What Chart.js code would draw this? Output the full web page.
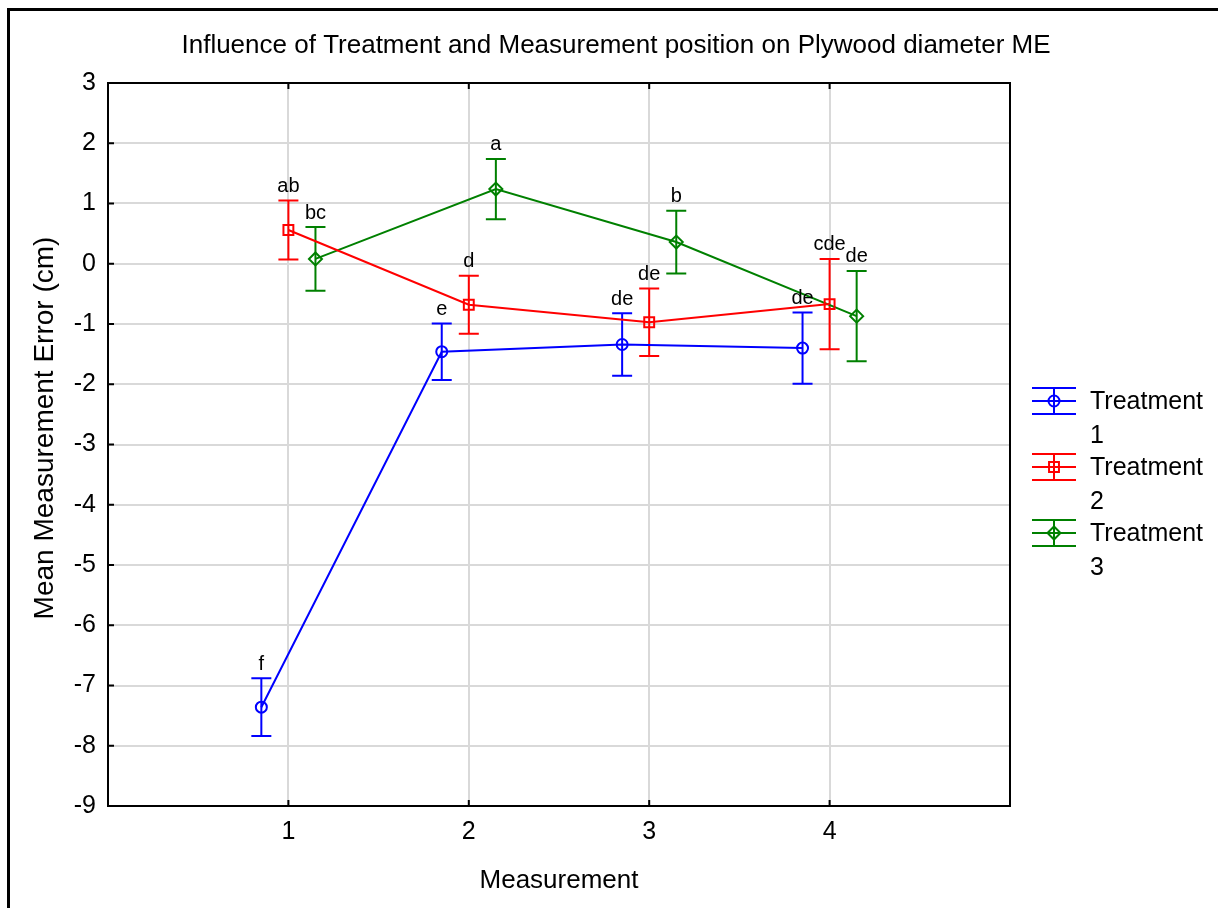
<!DOCTYPE html>
<html>
<head>
<meta charset="utf-8">
<script src="https://cdn.jsdelivr.net/npm/chart.js@4/dist/chart.umd.min.js"></script>
<style>
  html, body { margin: 0; padding: 0; background: #fff; }
</style>
</head>
<body>
<canvas id="chart" width="1218" height="908"></canvas>
<script>
// measurement positions (x axis)
const measurements = [1, 2, 3, 4];
const xTickLabels = ["1", "2", "3", "4"];

// Treatment 1 - means, +/- error, letter groups
const t1Means = [-7.36, -1.46, -1.34, -1.40];
const t1Errors = [0.48, 0.47, 0.52, 0.59];
const t1Letters = ["f", "e", "de", "de"];

// Treatment 2
const t2Means = [0.56, -0.68, -0.97, -0.67];
const t2Errors = [0.49, 0.48, 0.56, 0.75];
const t2Letters = ["ab", "d", "de", "cde"];

// Treatment 3
const t3Means = [0.08, 1.24, 0.36, -0.87];
const t3Errors = [0.53, 0.50, 0.52, 0.75];
const t3Letters = ["bc", "a", "b", "de"];

const font = "'Liberation Sans', Arial, sans-serif";

// each treatment is dodged a little bit on the x axis
const series = [
  { label: "Treatment 1", means: t1Means, errors: t1Errors, letters: t1Letters, color: "#0000ff", pointStyle: "circle", radius: 5.5, dodge: -0.15 },
  { label: "Treatment 2", means: t2Means, errors: t2Errors, letters: t2Letters, color: "#ff0000", pointStyle: "rect", radius: 7, dodge: 0 },
  { label: "Treatment 3", means: t3Means, errors: t3Errors, letters: t3Letters, color: "#008000", pointStyle: "rectRot", radius: 6.5, dodge: 0.15 },
];

const datasets = series.map((s) => ({
  label: s.label,
  data: measurements.map((m, i) => ({ x: m + s.dodge, y: s.means[i] })),
  borderColor: s.color,
  backgroundColor: "rgba(0,0,0,0)",
  borderWidth: 2,
  pointStyle: s.pointStyle,
  pointRadius: s.radius,
  pointBorderWidth: 2,
  pointBackgroundColor: "rgba(0,0,0,0)",
  pointBorderColor: s.color,
  tension: 0,
}));

// error bars go under the line and the markers
const errorBars = {
  id: "errorBars",
  beforeDatasetsDraw(chart) {
    const ctx = chart.ctx;
    const y = chart.scales.y;
    ctx.save();
    ctx.lineWidth = 2;
    series.forEach((s, k) => {
      const meta = chart.getDatasetMeta(k);
      ctx.strokeStyle = s.color;
      meta.data.forEach((pt, i) => {
        const top = y.getPixelForValue(s.means[i] + s.errors[i]);
        const bot = y.getPixelForValue(s.means[i] - s.errors[i]);
        ctx.beginPath();
        ctx.moveTo(pt.x, top);
        ctx.lineTo(pt.x, bot);
        ctx.moveTo(pt.x - 10, top);
        ctx.lineTo(pt.x + 10, top);
        ctx.moveTo(pt.x - 10, bot);
        ctx.lineTo(pt.x + 10, bot);
        ctx.stroke();
      });
    });
    ctx.restore();
  },
  afterDatasetsDraw(chart) {
    // letters above the top cap
    const ctx = chart.ctx;
    const y = chart.scales.y;
    ctx.save();
    ctx.fillStyle = "#000";
    ctx.font = "20px " + font;
    ctx.textAlign = "center";
    ctx.textBaseline = "middle";
    series.forEach((s, k) => {
      const meta = chart.getDatasetMeta(k);
      meta.data.forEach((pt, i) => {
        const top = y.getPixelForValue(s.means[i] + s.errors[i]);
        ctx.fillText(s.letters[i], pt.x, top - 14);
      });
    });
    ctx.restore();
  },
};

// white page, frame, plot box, inward ticks, titles and legend
const decorations = {
  id: "decorations",
  beforeDraw(chart) {
    const ctx = chart.ctx;
    ctx.save();
    ctx.fillStyle = "#fff";
    ctx.fillRect(0, 0, chart.width, chart.height);
    ctx.restore();
  },
  afterDraw(chart) {
    const ctx = chart.ctx;
    const a = chart.chartArea;
    const xs = chart.scales.x;
    const ys = chart.scales.y;
    ctx.save();

    // outer frame (only top and left are visible)
    ctx.strokeStyle = "#000";
    ctx.lineWidth = 3;
    ctx.beginPath();
    ctx.moveTo(8.5, 908);
    ctx.lineTo(8.5, 9.5);
    ctx.lineTo(1218, 9.5);
    ctx.stroke();

    // plot box
    ctx.lineWidth = 2;
    ctx.strokeRect(a.left, a.top, a.right - a.left, a.bottom - a.top);

    // inward tick marks
    ctx.beginPath();
    ys.ticks.forEach((t) => {
      const py = ys.getPixelForValue(t.value);
      ctx.moveTo(a.left, py);
      ctx.lineTo(a.left + 6, py);
    });
    measurements.forEach((m) => {
      const px = xs.getPixelForValue(m);
      ctx.moveTo(px, a.bottom);
      ctx.lineTo(px, a.bottom - 6);
      ctx.moveTo(px, a.top);
      ctx.lineTo(px, a.top + 6);
    });
    ctx.stroke();

    // title
    ctx.fillStyle = "#000";
    ctx.font = "26px " + font;
    ctx.textAlign = "center";
    ctx.textBaseline = "middle";
    ctx.fillText("Influence of Treatment and Measurement position on Plywood diameter ME", 616, 46);

    // y axis title
    ctx.save();
    ctx.translate(45, 428);
    ctx.rotate(-Math.PI / 2);
    ctx.font = "28px " + font;
    ctx.fillText("Mean Measurement Error (cm)", 0, 0);
    ctx.restore();

    // legend
    series.forEach((s, k) => {
      const cy = 401 + 66 * k;
      const cx = 1054;
      ctx.strokeStyle = s.color;
      ctx.lineWidth = 2;
      ctx.beginPath();
      ctx.moveTo(1032, cy - 13);
      ctx.lineTo(1076, cy - 13);
      ctx.moveTo(1032, cy);
      ctx.lineTo(1076, cy);
      ctx.moveTo(1032, cy + 13);
      ctx.lineTo(1076, cy + 13);
      ctx.moveTo(cx, cy - 13);
      ctx.lineTo(cx, cy + 13);
      ctx.stroke();
      ctx.fillStyle = "rgba(0,0,0,0)";
      Chart.helpers.drawPoint(ctx, { pointStyle: s.pointStyle, radius: s.radius, rotation: 0, borderWidth: 2 }, cx, cy);
      ctx.fillStyle = "#000";
      ctx.font = "25px " + font;
      ctx.textAlign = "left";
      const words = s.label.split(" ");
      ctx.fillText(words[0], 1090, cy + 1);
      ctx.fillText(words[1], 1090, cy + 35);
    });

    ctx.restore();
  },
};

const ctx = document.querySelector("#chart");

const chart = new Chart(ctx, {
  type: "line",
  data: { datasets },
  plugins: [errorBars, decorations],
  options: {
    responsive: false,
    animation: false,
    layout: { padding: { top: 83, left: 0, right: 208, bottom: 0 } },
    plugins: {
      legend: { display: false },
      title: { display: false },
      tooltip: { enabled: false },
    },
    scales: {
      x: {
        type: "linear",
        min: 0,
        max: 5,
        afterFit: (scale) => { scale.height = 102; },
        afterBuildTicks: (scale) => {
          scale.ticks = [0, 1, 2, 3, 4, 5].map((v) => ({ value: v }));
        },
        ticks: {
          color: "#000",
          font: { family: font, size: 25 },
          padding: 11,
          maxRotation: 0,
          callback: (v) => {
            const i = measurements.indexOf(v);
            return i >= 0 ? xTickLabels[i] : "";
          },
        },
        grid: {
          drawTicks: false,
          lineWidth: 2,
          color: (c) => (c.tick && measurements.includes(c.tick.value) ? "#d9d9d9" : "rgba(0,0,0,0)"),
        },
        border: { display: false },
        title: {
          display: true,
          text: "Measurement",
          color: "#000",
          font: { family: font, size: 26 },
          padding: { bottom: 12 },
        },
      },
      y: {
        min: -9,
        max: 3,
        afterFit: (scale) => { scale.width = 108; },
        ticks: {
          stepSize: 1,
          color: "#000",
          font: { family: font, size: 25 },
          padding: 12,
        },
        grid: {
          drawTicks: false,
          lineWidth: 2,
          color: "#d9d9d9",
        },
        border: { display: false },
        title: { display: false },
      },
    },
  },
});
</script>
</body>
</html>
